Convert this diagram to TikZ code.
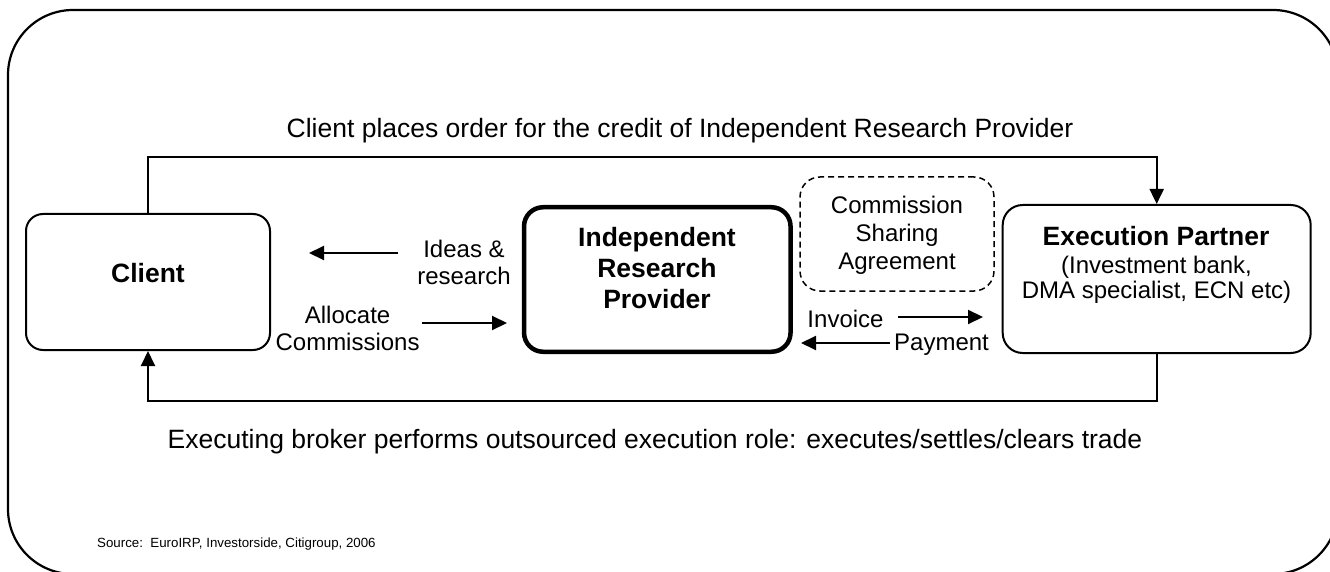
\documentclass[tikz,border=0pt]{standalone}
\usepackage{fontspec}
\setmainfont{Liberation Sans}
\usetikzlibrary{arrows.meta}
\begin{document}
\begin{tikzpicture}[x=1pt,y=-1pt,
  arr/.style={line width=2pt,-{Triangle[length=15pt,width=14pt]}},
  box/.style={draw,line width=2pt,rounded corners=17pt,inner sep=0pt},
  caption/.style={font=\fontsize{26.5}{30}\selectfont,anchor=base,inner sep=0pt},
  lbl/.style={font=\fontsize{24}{27.6}\selectfont,anchor=base,inner sep=0pt},
  title/.style={font=\fontsize{26.5}{30}\selectfont\bfseries,anchor=base,inner sep=0pt},
]
\useasboundingbox (0,0) rectangle (1330,572);
% outer rounded frame, running off the page on the right and bottom
\begin{scope}
  \clip (0,0) rectangle (1330,572);
  \draw[line width=2.2pt,rounded corners=65pt] (8,10) rectangle (1338,574);
\end{scope}

% boxes
\node[box,minimum width=244pt,minimum height=136pt] (client) at (148,282) {};
\node[box,line width=4.5pt,rounded corners=19pt,minimum width=266.5pt,minimum height=144.5pt] (irp) at (657.3,279.5) {};
\node[box,rounded corners=20pt,minimum width=308pt,minimum height=148pt] (exec) at (1156.7,279) {};
\node[box,line width=1.5pt,dash pattern=on 6pt off 4pt,rounded corners=20pt,minimum width=194pt,minimum height=114pt] (csa) at (897,234) {};

% box texts
\node[title] (clientT) at (148,282) {Client};
\node[title] (irpT1) at (657,246.5) {Independent};
\node[title] (irpT2) at (657,277) {Research};
\node[title] (irpT3) at (657,308) {Provider};
\node[title] (execT) at (1156,245.5) {Execution Partner};
\node[lbl] (execS1) at (1156.5,273.5) {(Investment bank,};
\node[lbl] (execS2) at (1156.5,298.5) {DMA specialist, ECN etc)};
\node[lbl] (csa1) at (897,214) {Commission};
\node[lbl] (csa2) at (897,241.5) {Sharing};
\node[lbl] (csa3) at (897,269) {Agreement};

% flow labels
\node[lbl] (ideas1) at (464,257) {Ideas \&};
\node[lbl] (ideas2) at (464,284.5) {research};
\node[lbl] (alloc1) at (347.6,323) {Allocate};
\node[lbl] (alloc2) at (347.6,350.5) {Commissions};
\node[lbl] (invoice) at (845.5,327) {Invoice};
\node[lbl] (payment) at (941.5,350) {Payment};

% captions
\node[caption] (topcap) at (680,137.5) {Client places order for the credit of Independent Research Provider};
\node[caption] (botcap) at (655,448) {Executing broker performs outsourced execution role: executes/settles/clears trade};
\node[font=\fontsize{13.3}{16}\selectfont,anchor=base west,inner sep=0pt] (source) at (97,547) {Source:\ \ EuroIRP, Investorside, Citigroup, 2006};

% short flow arrows
\coordinate (ideasFrom) at (398,253);
\coordinate (ideasTo) at (309,253);
\coordinate (allocFrom) at (422,323);
\coordinate (allocTo) at (507,323);
\coordinate (invFrom) at (898,317);
\coordinate (invTo) at (983,317);
\coordinate (payFrom) at (890,343);
\coordinate (payTo) at (801,343);
\draw[arr] (ideasFrom) -- (ideasTo);
\draw[arr] (allocFrom) -- (allocTo);
\draw[arr] (invFrom) -- (invTo);
\draw[arr] (payFrom) -- (payTo);

% order and execution loops
\coordinate (topRail) at (0,157);
\coordinate (botRail) at (0,401);
\draw[arr] (client.north) -- (client.north |- topRail) -| (exec.north);
\draw[arr] (exec.south) -- (exec.south |- botRail) -| (client.south);
\end{tikzpicture}
\end{document}
